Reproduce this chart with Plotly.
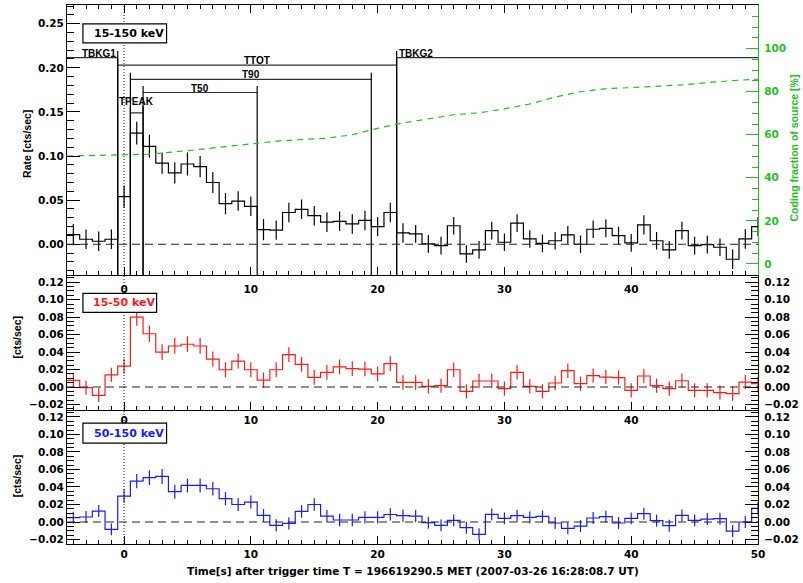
import plotly.graph_objects as go

# ---------------------------------------------------------------------------
# Light curve data: 1-s bins centred on integer seconds after trigger
# ---------------------------------------------------------------------------
bin_time = list(range(-4, 51))

rate_15_150 = [
    0.011, 0.0057, 0.0034, 0.0057, 0.054, 0.126, 0.111, 0.092, 0.081, 0.091,
    0.088, 0.070, 0.046, 0.049, 0.043, 0.0166, 0.016, 0.036, 0.0396, 0.0324,
    0.025, 0.026, 0.023, 0.027, 0.020, 0.036, 0.0128, 0.0117, 0.0004, -0.0015,
    0.021, -0.011, -0.0064, 0.0155, 0.0023, 0.024, 0.006, 0.001, 0.004, 0.0106,
    0.000, 0.017, 0.018, 0.0098, 0.0015, 0.022, 0.004, -0.0064, 0.0155, -0.0015,
    -0.0004, -0.0034, -0.017, 0.006, 0.020,
]
err_15_150 = [
    0.012, 0.011, 0.011, 0.011, 0.0125, 0.013, 0.013, 0.012, 0.012, 0.013,
    0.012, 0.012, 0.012, 0.011, 0.011, 0.012, 0.011, 0.011, 0.011, 0.011,
    0.011, 0.011, 0.011, 0.011, 0.011, 0.011, 0.011, 0.010, 0.010, 0.010,
    0.010, 0.010, 0.010, 0.010, 0.010, 0.010, 0.010, 0.010, 0.010, 0.010,
    0.010, 0.010, 0.010, 0.010, 0.010, 0.011, 0.010, 0.010, 0.010, 0.010,
    0.010, 0.010, 0.011, 0.011, 0.011,
]

rate_15_50 = [
    0.0076, -0.0008, -0.0095, 0.014, 0.024, 0.080, 0.061, 0.040, 0.047, 0.049,
    0.047, 0.032, 0.0198, 0.0297, 0.0198, 0.008, 0.0198, 0.037, 0.026, 0.011,
    0.0168, 0.023, 0.021, 0.0206, 0.015, 0.0267, 0.0053, 0.0053, 0.0008, 0.0015,
    0.0198, -0.005, 0.0069, 0.0069, -0.0019, 0.0168, 0.0008, -0.005, 0.0046, 0.0187,
    0.0038, 0.013, 0.0114, 0.0107, -0.0038, 0.0126, 0.0015, -0.0019, 0.0072, -0.0038,
    -0.0038, -0.0065, -0.0076, 0.0057, 0.0038,
]
err_15_50 = [
    0.0076, 0.0080, 0.0080, 0.0080, 0.0085, 0.0099, 0.0095, 0.0090, 0.0090, 0.0090,
    0.0090, 0.0088, 0.0086, 0.0086, 0.0086, 0.0085, 0.0085, 0.0086, 0.0085, 0.0085,
    0.0085, 0.0085, 0.0084, 0.0084, 0.0084, 0.0085, 0.0083, 0.0083, 0.0082, 0.0082,
    0.0083, 0.0082, 0.0082, 0.0082, 0.0082, 0.0083, 0.0082, 0.0082, 0.0082, 0.0083,
    0.0082, 0.0082, 0.0082, 0.0082, 0.0082, 0.0082, 0.0082, 0.0082, 0.0082, 0.0082,
    0.0082, 0.0082, 0.0082, 0.0082, 0.0082,
]

rate_50_150 = [
    0.0049, 0.0057, 0.0125, -0.0084, 0.0296, 0.0467, 0.0506, 0.052, 0.0346, 0.0418,
    0.0418, 0.038, 0.0266, 0.020, 0.0228, 0.0076, -0.0038, -0.0015, 0.0122, 0.020,
    0.0068, 0.0023, 0.0023, 0.0053, 0.0053, 0.0086, 0.0072, 0.0068, -0.0008, -0.0038,
    0.0019, -0.0065, -0.014, 0.0087, 0.0042, 0.0072, 0.0053, 0.0065, -0.0011, -0.0072,
    -0.0046, 0.0046, 0.0061, -0.0011, 0.0042, 0.0095, 0.0015, -0.0042, 0.0076, 0.0019,
    0.0034, 0.0038, -0.0103, 0.0, 0.0156,
]
err_50_150 = [
    0.0067, 0.0068, 0.0068, 0.0068, 0.0075, 0.0082, 0.0084, 0.0085, 0.0080, 0.0080,
    0.0080, 0.0078, 0.0076, 0.0075, 0.0075, 0.0072, 0.0070, 0.0070, 0.0072, 0.0072,
    0.0070, 0.0070, 0.0070, 0.0070, 0.0070, 0.0070, 0.0070, 0.0070, 0.0068, 0.0068,
    0.0068, 0.0068, 0.0068, 0.0068, 0.0068, 0.0068, 0.0068, 0.0068, 0.0068, 0.0068,
    0.0068, 0.0068, 0.0068, 0.0068, 0.0068, 0.0068, 0.0068, 0.0068, 0.0068, 0.0068,
    0.0068, 0.0068, 0.0068, 0.0068, 0.0070,
]

# Coding fraction of the source during the slew [%]
coding_time = [-4.5, -2, 0, 2, 4, 6, 8, 10, 12, 14, 16, 18, 20, 22, 24, 26, 28,
               30, 32, 34, 36, 38, 40, 42, 44, 46, 48, 50]
coding_frac = [50.1, 50.3, 50.7, 51.0, 52.0, 53.2, 54.5, 55.7, 57.0, 57.8, 58.4,
               60.0, 63.0, 65.5, 67.5, 69.3, 70.2, 72.0, 74.3, 77.5, 80.0, 81.4,
               81.9, 82.4, 83.2, 84.2, 85.2, 85.8]

# Duration intervals [s]
interval_name = ["TBKG1", "TTOT", "T90", "T50", "TPEAK", "TBKG2"]
interval_start = [-30.0, -0.5, 0.5, 1.5, 0.5, 21.5]
interval_stop = [-0.5, 21.5, 19.5, 10.5, 1.5, 80.0]
interval_level = [0.2115, 0.203, 0.187, 0.172, 0.149, 0.2115]

band_label = ["15-150 keV", "15-50 keV", "50-150 keV"]
x_title = "Time[s] after trigger time T = 196619290.5 MET (2007-03-26 16:28:08.7 UT)"

x_tickvals = [0, 10, 20, 30, 40, 50]
x_ticktext_full = ["0", "10", "20", "30", "40", "50"]
x_ticktext_cut = ["0", "10", "20", "30", "40", ""]

# ---------------------------------------------------------------------------
# Page geometry
# ---------------------------------------------------------------------------
W, H = 803, 583
ML, MR, MT, MB = 67, 42, 4, 39
PX0, PX1, PY0, PY1 = ML, W - MR, MT, H - MB


def fx(px):
    return (px - PX0) / (PX1 - PX0)


def fy(py):
    return (PY1 - py) / (PY1 - PY0)


GREEN = "#1fc01f"
RED = "#ff1a1a"
BLUE = "#1a1aff"
FONT = "DejaVu Sans"
tick_font = dict(family=FONT, size=10.5, color="black", weight="bold")

x_range = [-4.5, 50.0]
y_top = [-0.0354, 0.2712]
y_cov = [-5.4, 120.3]
y_mid = [-0.0266, 0.1277]
y_bot = [-0.0251, 0.1276]

dom_top = [fy(275), 1.0]
dom_mid = [fy(410), fy(275)]
dom_bot = [0.0, fy(410)]

fig = go.Figure()


def add_hist(rates, errs, color, xa, ya):
    edges = [t - 0.5 for t in bin_time] + [bin_time[-1] + 0.5]
    levels = list(rates) + [rates[-1]]
    fig.add_trace(go.Scatter(
        x=edges, y=levels, mode="lines", line=dict(color=color, width=1.2, shape="hv"),
        xaxis=xa, yaxis=ya, hoverinfo="skip", showlegend=False))
    fig.add_trace(go.Scatter(
        x=bin_time, y=rates, mode="markers", marker=dict(size=0.1, color=color, opacity=0),
        error_y=dict(type="data", array=errs, color=color, thickness=1.2, width=0),
        xaxis=xa, yaxis=ya, hoverinfo="skip", showlegend=False))


add_hist(rate_15_150, err_15_150, "black", "x", "y")
add_hist(rate_15_50, err_15_50, RED, "x2", "y3")
add_hist(rate_50_150, err_50_150, BLUE, "x3", "y5")

# invisible traces so the right-hand rate axes get drawn
for xa, ya, rng in (("x2", "y4", y_mid), ("x3", "y6", y_bot)):
    fig.add_trace(go.Scatter(x=[bin_time[0]], y=[rng[0]], mode="markers",
                             marker=dict(size=0.1, opacity=0), xaxis=xa, yaxis=ya,
                             hoverinfo="skip", showlegend=False))

# coding fraction curve on the right-hand axis
fig.add_trace(go.Scatter(
    x=coding_time, y=coding_frac, mode="lines", line=dict(color=GREEN, width=1.2, dash="6px,5px"),
    xaxis="x", yaxis="y2", hoverinfo="skip", showlegend=False))

# duration brackets: horizontal bar plus two legs down to the axis
overshoot = 0.0075
for name, t0, t1, lev in zip(interval_name, interval_start, interval_stop, interval_level):
    fig.add_trace(go.Scatter(
        x=[t0, t1], y=[lev, lev], mode="lines", line=dict(color="#303030", width=1.2),
        xaxis="x", yaxis="y", hoverinfo="skip", showlegend=False))
    for t in (t0, t1):
        fig.add_trace(go.Scatter(
            x=[t, t], y=[y_top[0], lev + overshoot], mode="lines",
            line=dict(color="black", width=1.2),
            xaxis="x", yaxis="y", hoverinfo="skip", showlegend=False))
    if name == "TBKG1":
        ax, anc, ya = t1, "right", lev
    elif name == "TBKG2":
        ax, anc, ya = t0, "left", lev
    elif name == "TPEAK":
        ax, anc, ya = 0.5 * (t0 + t1), "center", lev + overshoot
    else:
        ax, anc, ya = 0.5 * (t0 + t1), "center", lev
    fig.add_annotation(x=ax, y=ya, xref="x", yref="y", text=name, showarrow=False,
                       xanchor=anc, yanchor="bottom", yshift=-3,
                       font=dict(family="Liberation Sans", size=10, color="black", weight="bold"))

shapes = []
# zero lines
for xa, ya in (("x", "y"), ("x2", "y3"), ("x3", "y5")):
    shapes.append(dict(type="line", xref=xa + " domain", x0=0, x1=1, yref=ya, y0=0, y1=0,
                       line=dict(color="#222222", width=1.2, dash="8px,5px")))
# trigger time
shapes.append(dict(type="line", xref="x3", x0=0, x1=0, yref="paper", y0=0, y1=1,
                   line=dict(color="black", width=1, dash="1px,2px")))

# band label boxes
boxes = [(83, 167, 23, 42, 129, band_label[0], "black"),
         (83, 157, 293, 312, 124, band_label[1], RED),
         (83, 167, 423, 443, 129, band_label[2], BLUE)]
for x0, x1, y0, y1, xc, txt, col in boxes:
    shapes.append(dict(type="rect", xref="paper", yref="paper",
                       x0=fx(x0), x1=fx(x1), y0=fy(y1), y1=fy(y0),
                       line=dict(color="black", width=1.2), fillcolor="white", layer="above"))
    fig.add_annotation(x=fx(xc), y=fy(0.5 * (y0 + y1)), xref="paper", yref="paper",
                       text=txt, showarrow=False, xanchor="center", yanchor="middle",
                       font=dict(family=FONT, size=11, color=col, weight="bold"))


def title_note(px, py, text, color="black", angle=-90, family="Liberation Sans", size=10.5):
    fig.add_annotation(x=fx(px), y=fy(py), xref="paper", yref="paper", text=text,
                       textangle=angle, showarrow=False, xanchor="center", yanchor="middle",
                       font=dict(family=family, size=size, color=color, weight="bold"))


title_note(27, 143, "Rate [cts/sec]")
title_note(17, 337, "[cts/sec]")
title_note(17, 476, "[cts/sec]")
title_note(797, 147, "Coding fraction of source [%]", color=GREEN)
title_note(415, 571, x_title, angle=0, family=FONT)


def xaxis_cfg(anchor, mirror, ticktext, standoff):
    return dict(domain=[0, 1], anchor=anchor, range=x_range, tickmode="array",
                tickvals=x_tickvals, ticktext=ticktext,
                ticks="inside", ticklen=8, tickwidth=1, tickcolor="black",
                minor=dict(ticks="inside", dtick=1, tick0=0, ticklen=4, tickcolor="black",
                           showgrid=False),
                showline=True, linecolor="black", linewidth=1.2, mirror=mirror,
                showgrid=False, zeroline=False, tickfont=tick_font,
                ticklabelstandoff=standoff)


def yaxis_cfg(rng, dom, anchor, dtick, mdtick, side="left", overlay=None, color="black",
              fmt=".2f", maj=13, mnr=7):
    cfg = dict(range=rng, anchor=anchor, tickmode="linear", tick0=0, dtick=dtick,
               ticks="inside", ticklen=maj, tickwidth=1, tickcolor=color,
               minor=dict(ticks="inside", dtick=mdtick, tick0=0, ticklen=mnr, tickcolor=color,
                          showgrid=False),
               showline=True, linecolor=color, linewidth=1.2, showgrid=False, zeroline=False,
               tickformat=fmt, side=side,
               tickfont=dict(family=FONT, size=10.5, color=color, weight="bold"))
    if side == "right":
        cfg["ticklabelstandoff"] = 3
    if overlay:
        cfg["overlaying"] = overlay
    else:
        cfg["domain"] = dom
    return cfg


fig.update_layout(
    width=W, height=H, margin=dict(l=ML, r=MR, t=MT, b=MB),
    paper_bgcolor="white", plot_bgcolor="white", showlegend=False,
    xaxis=xaxis_cfg("y", "ticks", x_ticktext_cut, 4),
    xaxis2=xaxis_cfg("y3", False, x_ticktext_cut, 0),
    xaxis3=xaxis_cfg("y5", False, x_ticktext_full, 0),
    yaxis=yaxis_cfg(y_top, dom_top, "x", 0.05, 0.01),
    yaxis2=yaxis_cfg(y_cov, None, "x", 20, 5, side="right", overlay="y", color=GREEN,
                     fmt="d", maj=12, mnr=6),
    yaxis3=yaxis_cfg(y_mid, dom_mid, "x2", 0.02, 0.005),
    yaxis4=yaxis_cfg(y_mid, None, "x2", 0.02, 0.005, side="right", overlay="y3"),
    yaxis5=yaxis_cfg(y_bot, dom_bot, "x3", 0.02, 0.005),
    yaxis6=yaxis_cfg(y_bot, None, "x3", 0.02, 0.005, side="right", overlay="y5"),
    shapes=shapes,
)

fig.write_html("out.html")
